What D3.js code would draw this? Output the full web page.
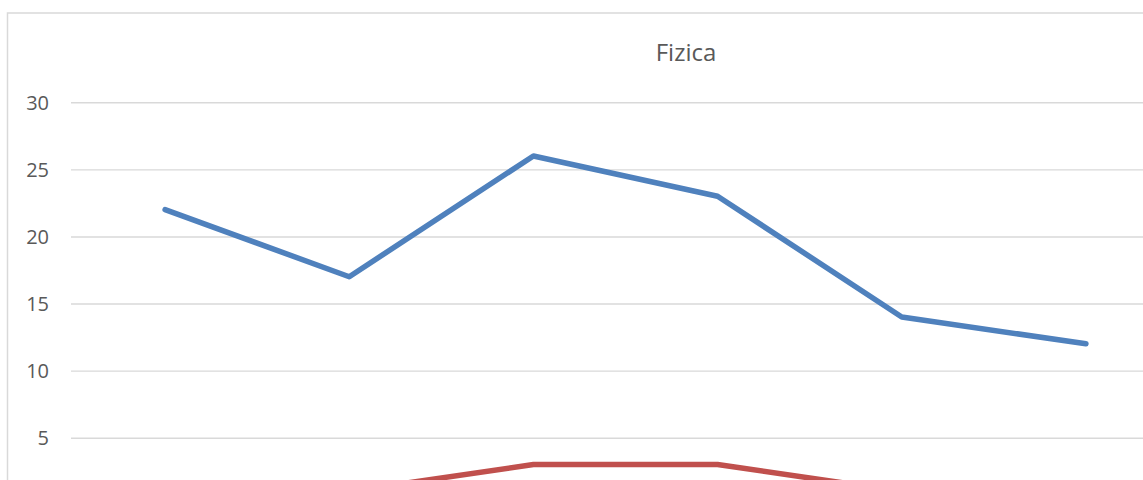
<!DOCTYPE html>
<html><head><meta charset="utf-8">
<script src="https://cdn.jsdelivr.net/npm/d3@7"></script>
<style>html,body{margin:0;padding:0;background:#fff;overflow:hidden}</style>
</head><body><div id="chart"></div>
<script>
const title = "Fizica";
const categories = ["1", "2", "3", "4", "5", "6"];
const seriesNames = ["Seria 1", "Seria 2"];
const series1 = [22, 17, 26, 23, 14, 12];
const series2 = [0, 1, 3, 3, 1, 0];
const yTicks = [5, 10, 15, 20, 25, 30];
const colors = ["#4F81BD", "#C0504D"];

const W = 1143, H = 480;
const svg = d3.select("#chart").append("svg").attr("width", W).attr("height", H);

svg.append("rect").attr("x", 7.5).attr("y", 13).attr("width", 1200).attr("height", 640)
  .attr("fill", "#fff").attr("stroke", "#d9d9d9").attr("stroke-width", 1.5);

const x = d3.scaleBand().domain(categories).range([73, 1178]);
const y = d3.scaleLinear().domain([0, 30]).range([504.8, 102.3]);

const grid = svg.append("g")
  .call(d3.axisLeft(y).tickValues(yTicks).tickSize(-1150).tickFormat(d3.format("d")).tickPadding(22))
  .attr("transform", "translate(71,0)");
grid.select(".domain").remove();
grid.selectAll(".tick line").attr("stroke", "#d9d9d9").attr("stroke-width", 1.4);
grid.selectAll(".tick text").attr("fill", "#595959").attr("font-family", "Open Sans, sans-serif")
  .attr("font-size", 20).attr("dy", "0.35em");

svg.append("text").attr("x", 686).attr("y", 61).attr("text-anchor", "middle")
  .attr("fill", "#595959").attr("font-family", "Open Sans, sans-serif").attr("font-size", 24)
  .text(title);

const line = d3.line().x((d, i) => x(categories[i]) + x.bandwidth() / 2).y(d => y(d));
[series1, series2].forEach((s, k) => {
  svg.append("path").datum(s).attr("d", line).attr("fill", "none")
    .attr("stroke", colors[k]).attr("stroke-width", 5.5)
    .attr("stroke-linecap", "round").attr("stroke-linejoin", "round");
});
</script></body></html>
